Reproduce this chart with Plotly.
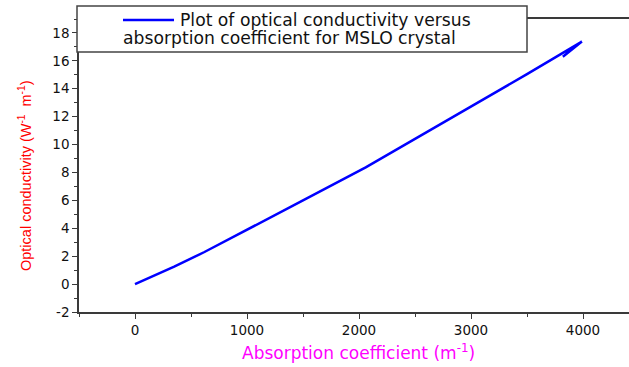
import plotly.graph_objects as go

# Optical conductivity vs absorption coefficient for the MSLO crystal
absorption = [0, 150, 350, 620, 1000, 1500, 2060, 2500, 3000, 3500, 3990, 3820]
conductivity = [0, 0.52, 1.25, 2.3, 3.88, 6.0, 8.36, 10.4, 12.7, 15.05, 17.38, 16.3]

x_ticks = [0, 1000, 2000, 3000, 4000]
y_ticks = [-2, 0, 2, 4, 6, 8, 10, 12, 14, 16, 18]

legend_line1 = "Plot of optical conductivity versus"
legend_line2 = "absorption coefficient for MSLO crystal"

W, H = 629, 367
L, R, T, B = 79, 0, 19, 55
pw, ph = W - L - R, H - T - B


def px(xp):
    return (xp - L) / pw


def py(yp):
    return (H - B - yp) / ph


wide = "DejaVu Sans, sans-serif"
narrow = "Arial, Liberation Sans, sans-serif"

fig = go.Figure()
fig.add_trace(go.Scatter(
    x=absorption, y=conductivity, mode="lines",
    line=dict(color="#0000ff", width=2.5), showlegend=False,
))

axis_common = dict(
    showline=True, linecolor="#3a3a3a", linewidth=1.6,
    showgrid=False, zeroline=False,
    ticks="outside", ticklen=5, tickwidth=1.3, tickcolor="#3a3a3a",
    tickfont=dict(family=wide, size=13.5, color="#111111"),
)

fig.update_layout(
    width=W, height=H,
    margin=dict(l=L, r=R, t=T, b=B),
    paper_bgcolor="white", plot_bgcolor="white",
    xaxis=dict(
        range=[-500, -500 + pw * 1000 / 112],
        tickvals=x_ticks, ticktext=[str(v) for v in x_ticks],
        mirror=True,
        minor=dict(dtick=500, tick0=-500, ticks="outside", ticklen=3,
                   tickwidth=1.3, tickcolor="#3a3a3a"),
        **axis_common,
    ),
    yaxis=dict(
        range=[-2, 19],
        tickvals=y_ticks, ticktext=[str(v) for v in y_ticks],
        minor=dict(dtick=1, tick0=-2, ticks="outside", ticklen=3,
                   tickwidth=1.3, tickcolor="#3a3a3a"),
        **axis_common,
    ),
)

# Axis titles
fig.add_annotation(
    text="Absorption coefficient (m<sup>-1</sup>)",
    xref="paper", yref="paper", x=px(358), y=py(352),
    xanchor="center", yanchor="middle", showarrow=False,
    font=dict(family=wide, size=17, color="#ff00ff"),
)
fig.add_annotation(
    text="Optical conductivity (W<sup>-1</sup>  m<sup>-1</sup>)",
    xref="paper", yref="paper", x=px(25), y=py(176),
    xanchor="center", yanchor="middle", showarrow=False, textangle=-90,
    font=dict(family=narrow, size=14.5, color="#ff0000"),
)

# Legend box
fig.add_shape(
    type="rect", xref="paper", yref="paper",
    x0=px(77), x1=px(527), y0=py(52), y1=py(6),
    line=dict(color="#444444", width=1.5), fillcolor="white", layer="above",
)
fig.add_shape(
    type="line", xref="paper", yref="paper",
    x0=px(123), x1=px(174), y0=py(20), y1=py(20),
    line=dict(color="#0000ff", width=2.5), layer="above",
)
fig.add_annotation(
    text=legend_line1, xref="paper", yref="paper", x=px(178), y=py(20),
    xanchor="left", yanchor="middle", showarrow=False,
    font=dict(family=wide, size=17.2, color="#111111"),
)
fig.add_annotation(
    text=legend_line2, xref="paper", yref="paper", x=px(121), y=py(37.5),
    xanchor="left", yanchor="middle", showarrow=False,
    font=dict(family=wide, size=17.2, color="#111111"),
)

fig.write_html("out.html")
